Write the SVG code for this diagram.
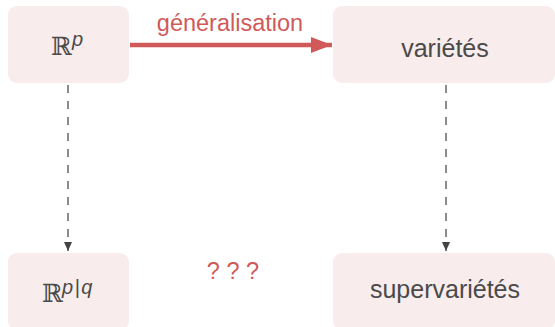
<svg xmlns="http://www.w3.org/2000/svg" width="555" height="327" viewBox="0 0 555 327">
<style>
.box{fill:#f8ecec;stroke:none}
.lbl{font-family:"Liberation Sans","Helvetica",sans-serif;font-size:25px;fill:#4a4a4a;text-anchor:middle}
.bb{font-family:"DejaVu Serif","DejaVu Sans",serif;font-size:25px;fill:#4a4a4a}
.sup{font-family:"Liberation Sans",sans-serif;font-style:italic;font-size:20px;fill:#4a4a4a}
.red{font-family:"Liberation Sans",sans-serif;font-size:23.5px;fill:#d05a5a;text-anchor:middle}
.dash{stroke:#666;stroke-width:1.5;stroke-dasharray:8 8;fill:none}
</style>
<defs>
<marker id="ah" markerWidth="10" markerHeight="10" refX="9" refY="4" orient="auto" markerUnits="userSpaceOnUse">
<path d="M0,0 L9,4 L0,8 Z" fill="#444"/>
</marker>
<marker id="rh" markerWidth="22" markerHeight="16" refX="21" refY="8" orient="auto" markerUnits="userSpaceOnUse">
<path d="M0,0 L21,8 L0,16 Z" fill="#d05a5a"/>
</marker>
</defs>
<g id="connectors">
<line x1="130" y1="45" x2="332" y2="45" stroke="#d05a5a" stroke-width="4.5" marker-end="url(#rh)"/>
<text class="red" x="230" y="31">généralisation</text>
<line class="dash" x1="68" y1="85" x2="68" y2="251" marker-end="url(#ah)"/>
<line class="dash" x1="446" y1="85" x2="446" y2="251" marker-end="url(#ah)"/>
<text class="red" x="233" y="279">? ? ?</text>
</g>
<g id="node-Rp">
<rect class="box" x="8" y="6" width="121" height="77" rx="9"/>
<text class="bb" x="51" y="55">ℝ</text>
<text class="sup" x="72" y="46">p</text>
</g>
<g id="node-varietes">
<rect class="box" x="333" y="6" width="222" height="77" rx="9"/>
<text class="lbl" x="445" y="57">variétés</text>
</g>
<g id="node-Rpq">
<rect class="box" x="8" y="253" width="121" height="77" rx="9"/>
<text class="bb" x="42" y="302">ℝ</text>
<text class="sup" x="62" y="294" letter-spacing="1.5">p|q</text>
</g>
<g id="node-supervarietes">
<rect class="box" x="333" y="253" width="222" height="77" rx="9"/>
<text class="lbl" x="445" y="298">supervariétés</text>
</g>
</svg>
